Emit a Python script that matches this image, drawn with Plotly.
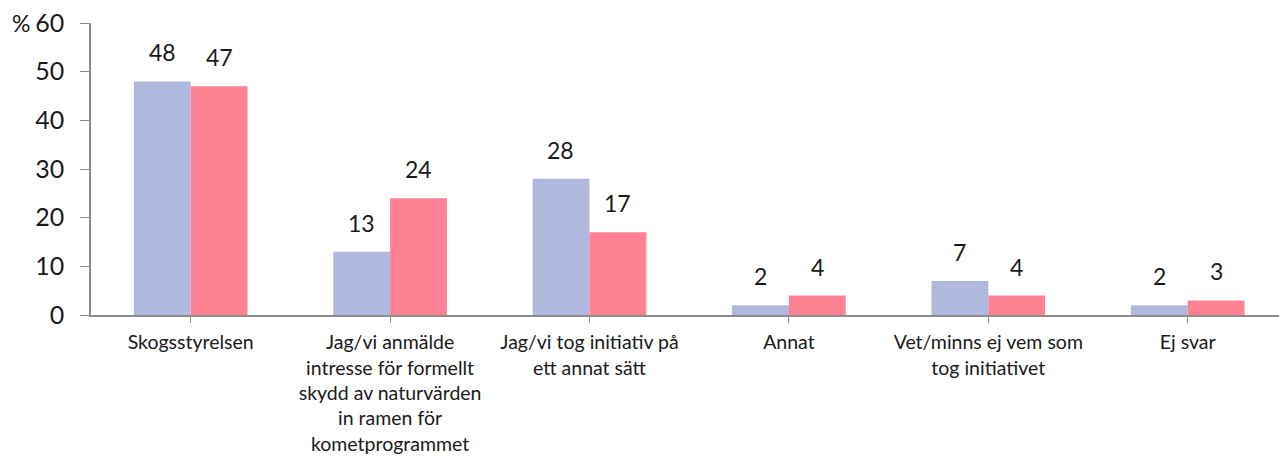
import plotly.graph_objects as go

categories = [
    "Skogsstyrelsen",
    "Jag/vi anmälde<br>intresse för formellt<br>skydd av naturvärden<br>in ramen för<br>kometprogrammet",
    "Jag/vi tog initiativ på<br>ett annat sätt",
    "Annat",
    "Vet/minns ej vem som<br>tog initiativet",
    "Ej svar",
]
series_a = [48, 13, 28, 2, 7, 2]
series_b = [47, 24, 17, 4, 4, 3]
y_ticks = [0, 10, 20, 30, 40, 50, 60]

color_a = "#B1B8DE"
color_b = "#FF8194"
font_family = "Lato, 'Open Sans', sans-serif"
text_color = "#1a1a1a"

x_idx = list(range(len(categories)))

fig = go.Figure()
fig.add_trace(go.Bar(x=x_idx, y=series_a, marker=dict(color=color_a, line=dict(width=0)),
                     showlegend=False, hoverinfo="y"))
fig.add_trace(go.Bar(x=x_idx, y=series_b, marker=dict(color=color_b, line=dict(width=0)),
                     showlegend=False, hoverinfo="y"))

# value labels above each bar
half = 28.5
for i in x_idx:
    for vals, sh in ((series_a, -half), (series_b, half)):
        fig.add_annotation(x=i, y=vals[i], xref="x", yref="y", text=str(vals[i]),
                           showarrow=False, xshift=sh, yshift=13, yanchor="bottom",
                           font=dict(size=23, color=text_color, family=font_family))

# unit marker next to the top tick
fig.add_annotation(x=0, y=60, xref="paper", yref="y", text="%", showarrow=False,
                   xanchor="right", xshift=-59, yanchor="middle",
                   font=dict(size=23, color=text_color, family=font_family))

fig.update_layout(
    width=1279, height=456,
    margin=dict(l=91, r=0, t=23, b=141),
    paper_bgcolor="white", plot_bgcolor="white",
    barmode="group", bargap=0.43, bargroupgap=0,
    font=dict(family=font_family, color=text_color),
)
fig.update_xaxes(
    tickmode="array", tickvals=x_idx, ticktext=categories,
    range=[-0.5, 5.458], showgrid=False, zeroline=False,
    showline=True, linecolor="#8c8c8c", linewidth=1.5,
    ticks="outside", ticklen=6, tickcolor="#8c8c8c",
    ticklabelstandoff=3,
    tickfont=dict(size=19.5, family=font_family, color=text_color),
)
fig.update_yaxes(
    range=[0, 60], tickvals=y_ticks, showgrid=False, zeroline=False,
    showline=True, linecolor="#8c8c8c", linewidth=1.5,
    ticks="outside", ticklen=9, tickcolor="#8c8c8c",
    ticklabelstandoff=11,
    tickfont=dict(size=25, family=font_family, color=text_color),
)

fig.write_html("out.html")
